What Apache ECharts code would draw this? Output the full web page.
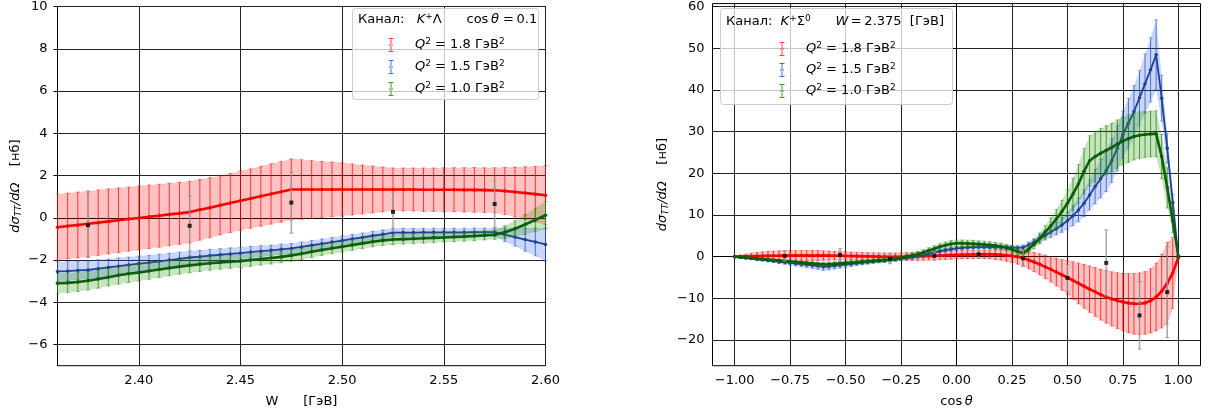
<!DOCTYPE html>
<html>
<head>
<meta charset="utf-8">
<script src="https://cdn.jsdelivr.net/npm/echarts@6/dist/echarts.min.js"></script>
<style>
html,body{margin:0;padding:0;background:#ffffff;}
#chart{width:1221px;height:416px;}
</style>
</head>
<body>
<div id="chart"></div>
<script>
// ---------------- DATA: left panel (K+Λ, cosθ = 0.1) ----------------
const leftW = [2.360,2.365,2.370,2.375,2.380,2.385,2.390,2.395,2.400,2.405,2.410,2.415,2.420,2.425,2.430,2.435,2.440,2.445,2.450,2.455,2.460,2.465,2.470,2.475,2.480,2.485,2.490,2.495,2.500,2.505,2.510,2.515,2.520,2.525,2.530,2.535,2.540,2.545,2.550,2.555,2.560,2.565,2.570,2.575,2.580,2.585,2.590,2.595,2.600];
const leftRed = [-0.45,-0.39,-0.34,-0.28,-0.23,-0.17,-0.12,-0.06,-0.01,0.05,0.10,0.16,0.21,0.27,0.38,0.48,0.59,0.70,0.81,0.91,1.02,1.13,1.23,1.34,1.34,1.34,1.34,1.34,1.34,1.34,1.34,1.34,1.34,1.34,1.34,1.34,1.33,1.33,1.33,1.33,1.32,1.32,1.31,1.30,1.27,1.22,1.17,1.12,1.07];
const leftRedErr = [1.57,1.56,1.56,1.55,1.55,1.54,1.53,1.52,1.51,1.50,1.49,1.48,1.47,1.46,1.44,1.42,1.40,1.40,1.40,1.41,1.42,1.43,1.44,1.45,1.41,1.37,1.33,1.30,1.26,1.21,1.16,1.11,1.06,1.02,1.02,1.02,1.03,1.03,1.04,1.04,1.05,1.06,1.06,1.07,1.12,1.18,1.25,1.32,1.40];
const leftBlue = [-2.54,-2.52,-2.49,-2.47,-2.41,-2.35,-2.29,-2.23,-2.17,-2.12,-2.06,-2.00,-1.94,-1.88,-1.84,-1.79,-1.75,-1.71,-1.67,-1.62,-1.58,-1.54,-1.49,-1.45,-1.38,-1.30,-1.23,-1.15,-1.08,-1.00,-0.93,-0.85,-0.78,-0.70,-0.70,-0.70,-0.69,-0.69,-0.69,-0.69,-0.69,-0.68,-0.68,-0.68,-0.80,-0.91,-1.03,-1.14,-1.26];
const leftBlueErr = [0.46,0.45,0.44,0.43,0.42,0.40,0.39,0.37,0.36,0.35,0.34,0.33,0.32,0.31,0.30,0.30,0.29,0.29,0.28,0.27,0.26,0.25,0.25,0.24,0.24,0.23,0.23,0.22,0.22,0.22,0.21,0.21,0.21,0.20,0.20,0.20,0.20,0.20,0.20,0.20,0.20,0.20,0.20,0.20,0.32,0.43,0.55,0.66,0.78];
const leftGreen = [-3.10,-3.08,-3.04,-2.98,-2.90,-2.81,-2.72,-2.65,-2.59,-2.52,-2.45,-2.38,-2.31,-2.25,-2.20,-2.15,-2.11,-2.08,-2.05,-2.00,-1.95,-1.90,-1.85,-1.78,-1.70,-1.61,-1.52,-1.44,-1.37,-1.29,-1.21,-1.13,-1.07,-1.03,-1.01,-0.99,-0.97,-0.95,-0.93,-0.91,-0.89,-0.86,-0.83,-0.80,-0.68,-0.52,-0.32,-0.10,0.12];
const leftGreenErr = [0.47,0.46,0.45,0.44,0.43,0.42,0.42,0.41,0.40,0.39,0.38,0.37,0.36,0.35,0.34,0.33,0.32,0.31,0.30,0.30,0.29,0.29,0.28,0.28,0.27,0.27,0.26,0.26,0.25,0.25,0.25,0.24,0.24,0.24,0.23,0.23,0.23,0.23,0.22,0.22,0.22,0.22,0.22,0.22,0.30,0.38,0.47,0.56,0.65];
const leftPtsW = [2.375,2.425,2.475,2.525,2.575];
const leftPtsVal = [-0.35,-0.38,0.72,0.28,0.65];
const leftPtsErr = [1.53,1.42,1.45,0.93,1.10];
const leftXTicks = [2.40,2.45,2.50,2.55,2.60];
const leftYTicks = [-6,-4,-2,0,2,4,6,8,10];

// ---------------- DATA: right panel (K+Σ0, W = 2.375 GeV) ----------------
const rightC = [-1.000,-0.975,-0.950,-0.925,-0.900,-0.875,-0.850,-0.825,-0.800,-0.775,-0.750,-0.725,-0.700,-0.675,-0.650,-0.625,-0.600,-0.575,-0.550,-0.525,-0.500,-0.475,-0.450,-0.425,-0.400,-0.375,-0.350,-0.325,-0.300,-0.275,-0.250,-0.225,-0.200,-0.175,-0.150,-0.125,-0.100,-0.075,-0.050,-0.025,0.000,0.025,0.050,0.075,0.100,0.125,0.150,0.175,0.200,0.225,0.250,0.275,0.300,0.325,0.350,0.375,0.400,0.425,0.450,0.475,0.500,0.525,0.550,0.575,0.600,0.625,0.650,0.675,0.700,0.725,0.750,0.775,0.800,0.825,0.850,0.875,0.900,0.925,0.950,0.975,1.000];
const rightRed = [0.00,0.03,0.06,0.09,0.12,0.15,0.18,0.20,0.22,0.24,0.25,0.26,0.27,0.27,0.27,0.27,0.26,0.25,0.23,0.21,0.18,0.15,0.12,0.09,0.06,0.03,0.01,-0.01,-0.02,-0.02,-0.01,0.01,0.04,0.08,0.12,0.17,0.22,0.27,0.32,0.37,0.42,0.46,0.50,0.53,0.55,0.56,0.55,0.52,0.45,0.34,0.18,-0.05,-0.35,-0.80,-1.30,-1.85,-2.45,-3.05,-3.70,-4.35,-5.00,-5.70,-6.40,-7.10,-7.80,-8.45,-9.10,-9.65,-10.15,-10.55,-10.90,-11.15,-11.30,-11.30,-11.10,-10.60,-9.70,-8.30,-6.40,-3.90,-0.20];
const rightRedErr = [0.10,0.35,0.55,0.75,0.90,1.00,1.10,1.15,1.20,1.20,1.20,1.20,1.20,1.20,1.20,1.20,1.15,1.10,1.05,1.00,1.00,0.95,0.95,0.90,0.90,0.90,0.90,0.90,0.90,0.90,0.90,0.95,0.95,1.00,1.00,1.00,1.00,1.00,1.00,1.00,1.00,1.00,1.00,1.00,1.00,1.05,1.10,1.20,1.30,1.45,1.60,1.75,1.90,2.10,2.30,2.55,2.80,3.05,3.30,3.70,4.10,4.50,4.90,5.25,5.55,5.85,6.10,6.30,6.50,6.70,6.90,7.10,7.30,7.40,7.50,7.70,8.10,8.80,9.80,8.50,0.50];
const rightBlue = [0.00,-0.15,-0.30,-0.45,-0.60,-0.75,-0.90,-1.05,-1.20,-1.35,-1.50,-1.65,-1.80,-1.95,-2.10,-2.25,-2.45,-2.35,-2.20,-2.05,-1.90,-1.75,-1.60,-1.45,-1.30,-1.15,-1.02,-0.90,-0.80,-0.65,-0.45,-0.30,-0.15,0.10,0.40,0.70,1.00,1.30,1.55,1.80,2.00,2.10,2.20,2.25,2.30,2.30,2.30,2.30,2.30,2.25,2.20,2.10,2.20,2.80,3.50,4.30,5.10,5.90,6.70,7.60,8.60,9.80,11.20,12.80,14.80,16.80,18.70,20.60,23.00,26.00,29.30,32.00,34.80,38.10,41.50,44.80,48.40,38.00,26.00,13.00,0.00];
const rightBlueErr = [0.05,0.10,0.15,0.20,0.25,0.30,0.35,0.40,0.45,0.50,0.55,0.60,0.65,0.70,0.75,0.80,0.85,0.80,0.75,0.70,0.65,0.60,0.55,0.50,0.50,0.45,0.45,0.45,0.45,0.45,0.45,0.45,0.45,0.45,0.45,0.45,0.45,0.45,0.45,0.45,0.45,0.45,0.45,0.45,0.45,0.45,0.45,0.45,0.45,0.50,0.50,0.55,0.60,0.70,0.80,0.95,1.10,1.30,1.50,1.75,2.00,2.40,2.80,3.20,3.60,4.10,4.60,5.00,5.20,5.40,5.60,5.90,6.20,6.50,7.10,7.70,8.40,5.50,3.50,2.00,0.30];
const rightGreen = [0.00,-0.12,-0.24,-0.36,-0.48,-0.60,-0.72,-0.84,-0.96,-1.08,-1.20,-1.32,-1.44,-1.56,-1.68,-1.80,-1.90,-1.85,-1.75,-1.65,-1.55,-1.45,-1.35,-1.25,-1.15,-1.05,-0.95,-0.85,-0.75,-0.55,-0.30,-0.05,0.25,0.60,1.00,1.45,1.90,2.35,2.75,3.05,3.20,3.20,3.15,3.10,3.00,2.90,2.80,2.65,2.45,2.15,1.75,1.25,0.80,1.80,3.00,4.40,5.90,7.40,9.00,10.80,12.80,15.00,17.50,20.50,23.00,24.00,24.80,25.50,26.20,27.00,27.70,28.30,28.80,29.10,29.30,29.40,29.50,24.00,16.50,8.60,0.00];
const rightGreenErr = [0.05,0.08,0.11,0.14,0.17,0.20,0.23,0.26,0.29,0.32,0.35,0.38,0.41,0.44,0.47,0.50,0.53,0.53,0.52,0.52,0.51,0.51,0.50,0.50,0.50,0.50,0.50,0.50,0.50,0.52,0.55,0.58,0.61,0.64,0.67,0.70,0.73,0.76,0.78,0.80,0.80,0.80,0.80,0.80,0.80,0.80,0.80,0.80,0.80,0.80,0.80,0.80,0.80,0.90,1.10,1.30,1.50,1.90,2.30,2.70,3.10,3.80,4.60,5.40,6.00,6.00,5.90,5.90,5.80,5.80,5.70,5.70,5.60,5.60,5.50,5.50,5.50,5.30,4.80,2.80,0.30];
const rightPtsC = [-0.775,-0.525,-0.300,-0.100,0.100,0.300,0.500,0.675,0.825,0.950];
const rightPtsVal = [0.16,0.40,-0.50,0.16,0.56,-0.40,-5.10,-1.50,-14.10,-8.50];
const rightPtsErr = [1.2,1.5,1.2,1.0,1.0,2.0,3.2,7.9,8.1,10.9];
const rightXTicks = [-1.00,-0.75,-0.50,-0.25,0.00,0.25,0.50,0.75,1.00];
const rightYTicks = [-20,-10,0,10,20,30,40,50,60];

// legend labels (Q^2 values, GeV^2)
const q2Labels = ['1.8','1.5','1.0'];

// ---------------- STYLE ----------------
const FONT = 'DejaVu Sans';
const COLORS = {
  red:   {line:'#ff0000', width:2.6, bar:'rgba(255,0,0,0.72)',   cap:'rgba(255,0,0,0.42)',   band:'rgba(255,0,0,0.24)'},
  blue:  {line:'#213f96', width:1.8, bar:'rgba(35,85,215,0.78)', cap:'rgba(35,85,215,0.45)', band:'rgba(35,85,215,0.24)'},
  green: {line:'#0b5e0b', width:2.6, bar:'rgba(30,140,0,0.78)',  cap:'rgba(30,140,0,0.45)',  band:'rgba(30,140,0,0.24)'}
};

function fmtNum(v, d) {
  const s = Math.abs(v).toFixed(d);
  return (v < -1e-9 ? '\u2212' : '') + s;
}

function band(xi, xs, ys, es, fill, z) {
  return {
    type: 'custom', xAxisIndex: xi, yAxisIndex: xi, z: z, silent: true,
    data: [[xs[0], ys[0]]], encode: {x: 0, y: 1},
    renderItem: function (params, api) {
      const pts = [];
      for (let i = 0; i < xs.length; i++) pts.push(api.coord([xs[i], ys[i] + es[i]]));
      for (let i = xs.length - 1; i >= 0; i--) pts.push(api.coord([xs[i], ys[i] - es[i]]));
      return {type: 'polygon', shape: {points: pts}, style: {fill: fill}};
    }
  };
}

function errBars(xi, xs, ys, es, bar, cap, capHalf, lw, z) {
  return {
    type: 'custom', xAxisIndex: xi, yAxisIndex: xi, z: z, silent: true,
    data: xs.map((x, i) => [x, ys[i] - es[i], ys[i] + es[i]]),
    encode: {x: 0, y: [1, 2]},
    renderItem: function (params, api) {
      const x = api.value(0);
      const a = api.coord([x, api.value(2)]);
      const b = api.coord([x, api.value(1)]);
      return {type: 'group', children: [
        {type: 'line', shape: {x1: a[0], y1: a[1], x2: b[0], y2: b[1]}, style: {stroke: bar, lineWidth: lw}},
        {type: 'line', shape: {x1: a[0] - capHalf, y1: a[1], x2: a[0] + capHalf, y2: a[1]}, style: {stroke: cap, lineWidth: 1}},
        {type: 'line', shape: {x1: b[0] - capHalf, y1: b[1], x2: b[0] + capHalf, y2: b[1]}, style: {stroke: cap, lineWidth: 1}}
      ]};
    }
  };
}

function curve(name, xi, xs, ys, color, width, z) {
  return {
    type: 'line', name: name, xAxisIndex: xi, yAxisIndex: xi, z: z, silent: true,
    data: xs.map((x, i) => [x, ys[i]]),
    symbol: 'circle', symbolSize: 3.5, showSymbol: true,
    lineStyle: {color: color, width: width}, itemStyle: {color: color}
  };
}

function dataPoints(xi, xs, ys, z) {
  return {
    type: 'scatter', xAxisIndex: xi, yAxisIndex: xi, z: z, silent: true,
    data: xs.map((x, i) => [x, ys[i]]),
    symbol: 'rect', symbolSize: 4, itemStyle: {color: '#000000'}
  };
}

function panelSeries(xi, xs, sets, px, py, pe, capHalf) {
  const out = [];
  let z = 2;
  sets.forEach(s => {
    out.push(band(xi, xs, s.y, s.e, s.c.band, z));
    out.push(errBars(xi, xs, s.y, s.e, s.c.bar, s.c.cap, capHalf, 1, z + 0.1));
    out.push(curve(s.name, xi, xs, s.y, s.c.line, s.c.width, z + 0.2));
    z += 1;
  });
  out.push(errBars(xi, px, py, pe, 'rgba(150,150,150,0.85)', 'rgba(150,150,150,0.85)', 2, 1.5, 10));
  out.push(dataPoints(xi, px, py, 10.1));
  return out;
}

const RICH = {
  r: {fontFamily: FONT, fontSize: 13, color: '#000', lineHeight: 16},
  i: {fontFamily: FONT, fontSize: 13, fontStyle: 'italic', color: '#000', lineHeight: 16},
  sup: {fontFamily: FONT, fontSize: 9, color: '#000', lineHeight: 8, verticalAlign: 'top'},
  sub: {fontFamily: FONT, fontSize: 9, fontStyle: 'italic', color: '#000', lineHeight: 8, verticalAlign: 'bottom'},
  sp: {fontFamily: FONT, fontSize: 13, width: 16.5, lineHeight: 16}
};

const GRID_LINE = {show: true, lineStyle: {color: '#222222', width: 1}};
const AXIS_LINE = {show: true, lineStyle: {color: '#000', width: 1}};

function xAxis(gi, min, max, ticks, dec, name) {
  return {
    type: 'value', gridIndex: gi, min: min, max: max,
    axisLine: AXIS_LINE,
    axisTick: {show: true, inside: false, length: 4, customValues: ticks, lineStyle: {color: '#000'}},
    axisLabel: {show: true, customValues: ticks, margin: 8, fontFamily: FONT, fontSize: 13, color: '#000',
      formatter: v => fmtNum(v, dec)},
    splitLine: GRID_LINE,
    name: name, nameLocation: 'middle', nameGap: 28,
    nameTextStyle: {fontFamily: FONT, fontSize: 13, color: '#000', rich: RICH}
  };
}
function yAxis(gi, min, max, ticks, margin, nameGap) {
  return {
    type: 'value', gridIndex: gi, min: min, max: max,
    axisLine: AXIS_LINE,
    axisTick: {show: true, inside: false, length: 4, customValues: ticks, lineStyle: {color: '#000'}},
    axisLabel: {show: true, customValues: ticks, margin: margin, fontFamily: FONT, fontSize: 13, color: '#000',
      formatter: v => fmtNum(v, 0)},
    splitLine: GRID_LINE,
    name: '{i|d\u03c3}{sub|TT}{i|/d\u03a9}{r|    [\u043d\u0431]}',
    nameLocation: 'middle', nameRotate: 90, nameGap: nameGap,
    nameTextStyle: {fontFamily: FONT, fontSize: 13, color: '#000', rich: RICH}
  };
}

const ERR_ICON = 'path://M0,0H5V1H0Z M2,0H3V14H2Z M0,13H5V14H0Z M0.8,7A1.7,1.7 0 1,0 4.2,7A1.7,1.7 0 1,0 0.8,7Z';
function legendCfg(left, top, gap) {
  return {
    show: true, orient: 'vertical', left: left, top: top, padding: 0, itemGap: gap,
    itemWidth: 5, itemHeight: 14, z: 12, selectedMode: false,
    data: [
      {name: q2Labels[0], icon: ERR_ICON, itemStyle: {color: 'rgba(255,0,0,0.75)'}},
      {name: q2Labels[1], icon: ERR_ICON, itemStyle: {color: 'rgba(35,85,215,0.85)'}},
      {name: q2Labels[2], icon: ERR_ICON, itemStyle: {color: 'rgba(30,140,0,0.85)'}}
    ],
    formatter: n => '{sp| }{i|Q}{sup|2}{r| = ' + n + ' \u0413\u044d\u0412}{sup|2}',
    textStyle: {fontFamily: FONT, fontSize: 13, color: '#000', rich: RICH}
  };
}

const leftSets = [
  {name: q2Labels[0], y: leftRed, e: leftRedErr, c: COLORS.red},
  {name: q2Labels[1], y: leftBlue, e: leftBlueErr, c: COLORS.blue},
  {name: q2Labels[2], y: leftGreen, e: leftGreenErr, c: COLORS.green}
];
const rightSets = [
  {name: q2Labels[0], y: rightRed, e: rightRedErr, c: COLORS.red},
  {name: q2Labels[1], y: rightBlue, e: rightBlueErr, c: COLORS.blue},
  {name: q2Labels[2], y: rightGreen, e: rightGreenErr, c: COLORS.green}
];

const option = {
  animation: false,
  backgroundColor: '#ffffff',
  grid: [
    {left: 57.5, top: 1.5, width: 488, height: 364.2, show: true, borderColor: '#000', borderWidth: 1, backgroundColor: 'transparent'},
    {left: 712.5, top: 1.5, width: 488, height: 364.2, show: true, borderColor: '#000', borderWidth: 1, backgroundColor: 'transparent'}
  ],
  xAxis: [
    xAxis(0, 2.36, 2.60, leftXTicks, 2, '{r|W      [\u0413\u044d\u0412]}'),
    xAxis(1, -1.1, 1.1, rightXTicks, 2, '{r|cos\u2009}{i|\u03b8}')
  ],
  yAxis: [
    yAxis(0, -7, 10, leftYTicks, 10, 34),
    yAxis(1, -26.16, 60.7, rightYTicks, 8, 42)
  ],
  legend: [
    legendCfg(388.5, 37, 7),
    legendCfg(779.5, 41, 6)
  ],
  graphic: [
    {type: 'rect', z: 11, silent: true, shape: {x: 352.5, y: 8.5, width: 186, height: 91, r: 3},
      style: {fill: 'rgba(255,255,255,0.75)', stroke: '#cccccc', lineWidth: 1}},
    {type: 'text', z: 12, silent: true, x: 358, y: 20,
      style: {text: '{r|\u041a\u0430\u043d\u0430\u043b:   }{i|K}{sup|+}{r|\u039b      cos\u2009}{i|\u03b8}{r| =\u20090.1}',
        rich: RICH, font: '13px "DejaVu Sans"', fill: '#000', verticalAlign: 'middle'}},
    {type: 'rect', z: 11, silent: true, shape: {x: 720.5, y: 8.5, width: 232, height: 96, r: 3},
      style: {fill: 'rgba(255,255,255,0.75)', stroke: '#cccccc', lineWidth: 1}},
    {type: 'text', z: 12, silent: true, x: 726, y: 22,
      style: {text: '{r|\u041a\u0430\u043d\u0430\u043b:  }{i|K}{sup|+}{r|\u03a3}{sup|0}{r|      }{i|W}{r|\u2009=\u20092.375  [\u0413\u044d\u0412]}',
        rich: RICH, font: '13px "DejaVu Sans"', fill: '#000', verticalAlign: 'middle'}}
  ],
  series: [].concat(
    panelSeries(0, leftW, leftSets, leftPtsW, leftPtsVal, leftPtsErr, 2),
    panelSeries(1, rightC, rightSets, rightPtsC, rightPtsVal, rightPtsErr, 2)
  )
};

const chart = echarts.init(document.getElementById('chart'), null, {renderer: 'canvas'});
chart.setOption(option);
</script>
</body>
</html>
